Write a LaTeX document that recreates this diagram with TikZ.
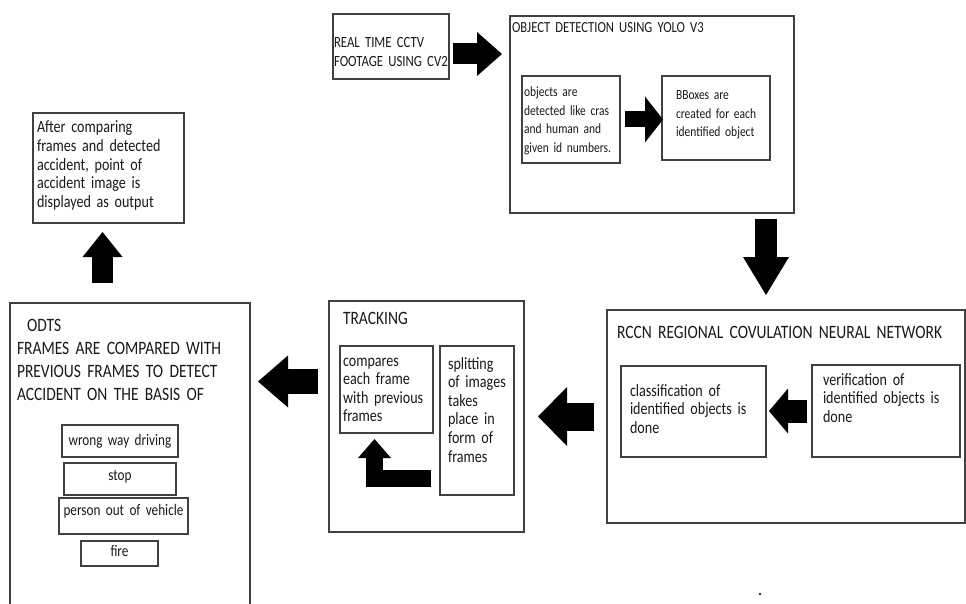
\documentclass[tikz,border=0pt]{standalone}
\usepackage{fontspec}
\setmainfont{Carlito}[FakeStretch=0.82]
\usepackage{xcolor}
\usepackage{tikz}
\usetikzlibrary{arrows.meta}

\begin{document}
\begin{tikzpicture}[x=1pt, y=-1pt,
	frame/.style={draw=black!75, line width=1.1pt, rectangle, anchor=north west, align=left, inner ysep=0pt, outer sep=0pt, text=black!90},
	capA/.style={font=\fontsize{15.6}{19}\selectfont},
	capB/.style={font=\fontsize{15.4}{18}\selectfont},
	capC/.style={font=\fontsize{18.9}{23}\selectfont},
	smalltxt/.style={font=\fontsize{14}{18.5}\selectfont},
	bodytxt/.style={font=\fontsize{17.2}{18.6}\selectfont},
	tagtxt/.style={font=\fontsize{16.1}{18.6}\selectfont},
	fat/.style n args={3}{draw=black, line width=#1, -{Triangle[width=#2, length=#3, line width=0pt]}}]
	\useasboundingbox (0,0) rectangle (966,604);
	\clip (0,0) rectangle (966,604);
	\node[frame, capA, inner xsep=1pt, text width=114pt, text height=34pt, text depth=31pt] (cctv) at (333,14) {REAL TIME CCTV\\FOOTAGE USING CV2};
	\node[frame, capB, inner xsep=2pt, text width=280pt, text height=17pt, text depth=180pt] (yolo) at (510,16) {OBJECT DETECTION USING YOLO V3};
	\node[frame, smalltxt, inner xsep=2pt, text width=94pt, text height=21pt, text depth=66pt] (detect) at (522,76) {objects are\\detected like cras\\and human and\\given id numbers.};
	\node[frame, smalltxt, inner xsep=12pt, text width=84pt, text height=24pt, text depth=60pt] (bbox) at (662,76) {\hspace*{2pt}BBoxes are\\\hspace*{2pt}created for each\\\hspace*{2pt}identified object};
	\node[frame, capC, inner xsep=10pt, text width=338pt, text height=28pt, text depth=185pt] (rccn) at (607,310) {RCCN REGIONAL COVULATION NEURAL NETWORK};
	\node[frame, bodytxt, inner xsep=9pt, text width=127pt, text height=30pt, text depth=61pt] (classify) at (621,366) {classification of\\identified objects is\\done};
	\node[frame, bodytxt, inner xsep=11pt, text width=126pt, text height=20pt, text depth=72pt] (verify) at (812,365) {verification of\\identified objects is\\done};
	\node[frame, capC, inner xsep=14pt, text width=167pt, text height=23pt, text depth=208pt] (tracking) at (329,301) {TRACKING};
	\node[frame, bodytxt, inner xsep=3pt, text width=87pt, text height=20pt, text depth=67pt] (compare) at (340,346) {compares\\each frame\\with previous\\frames};
	\node[frame, bodytxt, inner xsep=8pt, text width=58pt, text height=23pt, text depth=126pt] (split) at (440,346) {splitting\\of images\\takes\\place in\\form of\\frames};
	\node[frame, capC, inner xsep=7pt, text width=226pt, text height=28pt, text depth=289pt] (odts) at (10,303) {\hspace*{10pt}ODTS\\FRAMES ARE COMPARED WITH\\PREVIOUS FRAMES TO DETECT\\ACCIDENT ON THE BASIS OF};
	\node[frame, tagtxt, align=center, inner xsep=2pt, text width=112pt, text height=20pt, text depth=12pt] (wrong) at (62,425) {wrong way driving};
	\node[frame, tagtxt, align=center, inner xsep=2pt, text width=108pt, text height=17pt, text depth=15pt] (stop) at (64,463) {stop};
	\node[frame, tagtxt, align=center, inner xsep=1pt, text width=127pt, text height=17pt, text depth=19pt] (person) at (59,498) {person out of vehicle};
	\node[frame, tagtxt, align=center, inner xsep=2pt, text width=73pt, text height=15pt, text depth=10pt] (fire) at (81,541) {fire};
	\node[frame, bodytxt, inner xsep=4pt, text width=143pt, text height=20pt, text depth=90pt] (output) at (33,113) {After comparing\\frames and detected\\accident, point of\\accident image is\\displayed as output};
	\draw[fat={21pt}{44pt}{25pt}, shorten <=4pt, shorten >=8pt] ([yshift=-7.5pt]cctv.east) -- ([yshift=-7.5pt]cctv.east -| yolo.west);
	\draw[fat={16pt}{46pt}{18pt}, shorten <=5pt, shorten >=-1pt] (detect.east) -- (detect.east -| bbox.west);
	\draw[fat={22pt}{46pt}{38pt}, shorten <=6pt, shorten >=15pt] ([xshift=114pt]yolo.south) -- ([xshift=114pt]yolo.south |- rccn.north);
	\draw[fat={23pt}{45pt}{19pt}, shorten <=5pt, shorten >=3pt] (verify.west) -- (verify.west -| classify.east);
	\draw[fat={28pt}{59pt}{29pt}, shorten <=13pt, shorten >=14pt] (rccn.west) -- (rccn.west -| tracking.east);
	\draw[fat={25pt}{52pt}{30pt}, shorten <=11pt, shorten >=8pt] ([yshift=35pt]tracking.west) -- ([yshift=35pt]tracking.west -| odts.east);
	\draw[fat={21pt}{40pt}{25pt}, shorten <=20pt, shorten >=9pt] ([xshift=-27.5pt]odts.north) -- ([xshift=-27.5pt]odts.north |- output.south);
	\draw[fat={17pt}{33pt}{19pt}, line join=miter, shorten <=9pt, shorten >=6pt] ([yshift=-58pt]split.west) -| ([xshift=-12pt]compare.south);
	\fill[black!80] (760,594) circle (1.3pt);
\end{tikzpicture}
\end{document}
